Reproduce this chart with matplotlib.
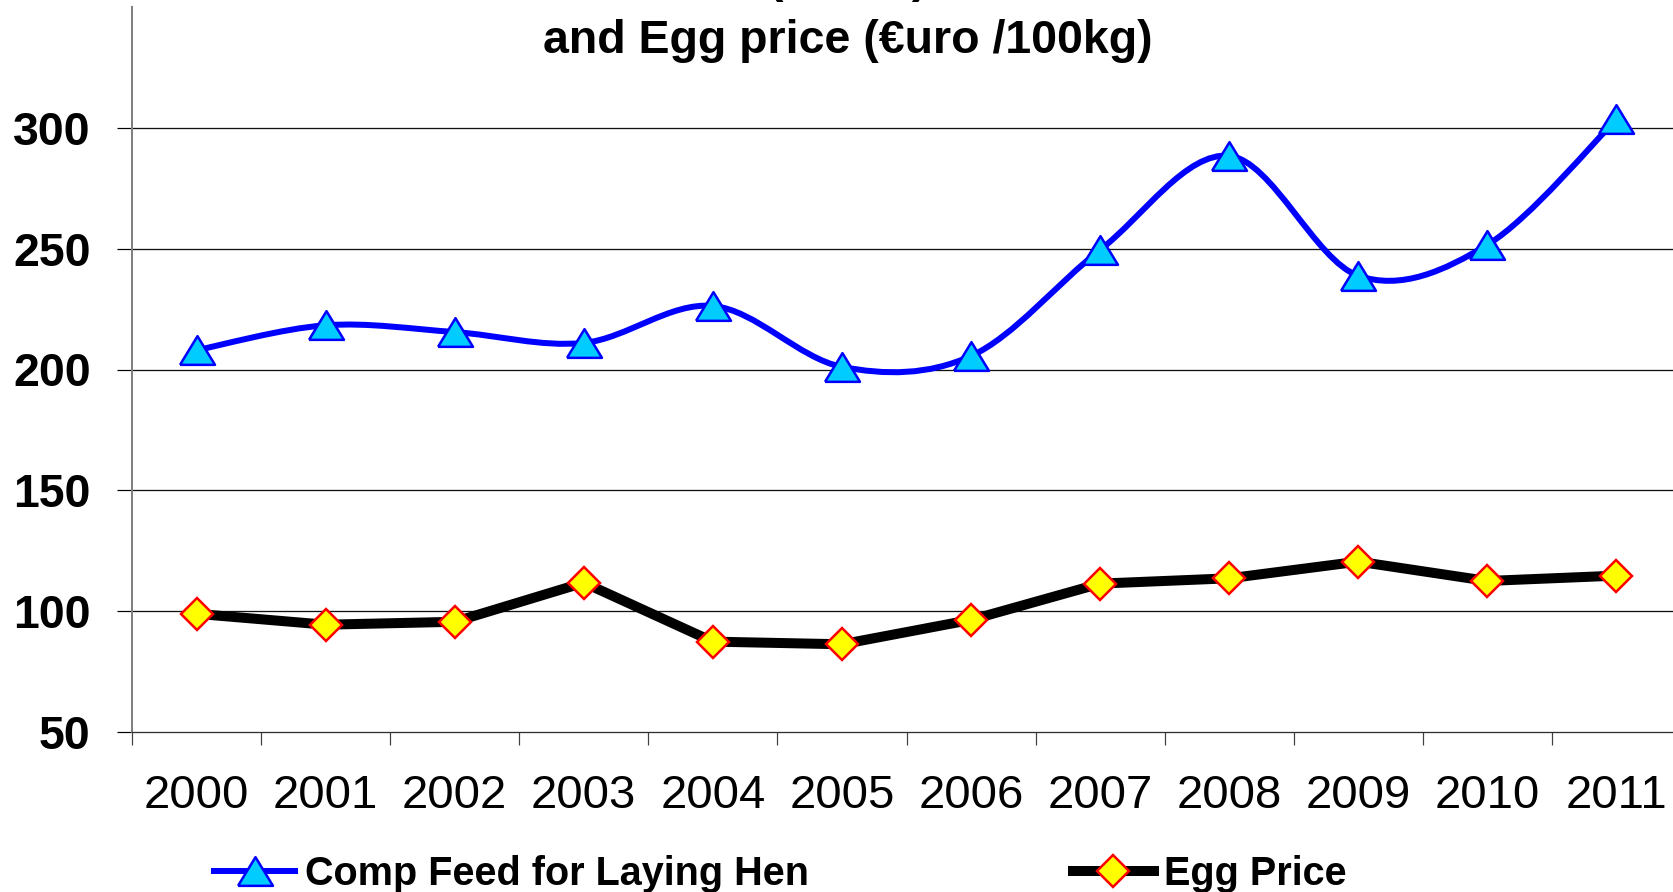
import numpy as np
import matplotlib
matplotlib.use('Agg')
from matplotlib import pyplot as plt
from matplotlib.path import Path
from matplotlib.patches import PathPatch
from matplotlib.lines import Line2D

years = ['2000', '2001', '2002', '2003', '2004', '2005',
         '2006', '2007', '2008', '2009', '2010', '2011']
feed_price = [208, 218.3, 215.5, 211, 226.3, 201.1, 205.6, 249.5, 288.4, 238.8, 251.6, 303.5]
egg_price = [98.9, 94.4, 95.6, 111.8, 87.4, 86.3, 96.4, 111.4, 113.6, 120.5, 112.5, 114.7]
y_ticks = [50, 100, 150, 200, 250, 300]

plt.rcParams['font.family'] = ['Liberation Sans', 'DejaVu Sans']

BLUE = '#0000FF'
CYAN = '#00CCFF'
PX = 0.72  # one pixel in points at dpi 100


def smooth_path(xs, ys):
    # Excel-like smoothed line: cubic bezier through the points
    pts = np.column_stack([xs, ys]).astype(float)
    n = len(pts)
    verts = [pts[0]]
    codes = [Path.MOVETO]
    for i in range(n - 1):
        p0 = pts[i - 1] if i > 0 else pts[i]
        p1 = pts[i]
        p2 = pts[i + 1]
        p3 = pts[i + 2] if i + 2 < n else pts[i + 1]
        verts += [p1 + (p2 - p0) / 6, p2 - (p3 - p1) / 6, p2]
        codes += [Path.CURVE4] * 3
    return Path(verts, codes)


fig = plt.figure(figsize=(16.73, 8.92), dpi=100)
ax = fig.add_axes([132 / 1673, 160 / 892, 1549 / 1673, 725 / 892])

x = np.arange(len(years))

# feed price: smoothed blue line with triangles
ax.add_patch(PathPatch(smooth_path(x, feed_price), transform=ax.transData,
                       facecolor='none', edgecolor=BLUE, lw=6 * PX, zorder=3,
                       capstyle='round', joinstyle='round'))
tri = [(-1, -0.82), (0, 0.82), (1, -0.82), (-1, -0.82)]
ax.plot(x, feed_price, linestyle='none', marker=tri, ms=35 * PX,
        markerfacecolor=CYAN, markeredgecolor=BLUE, markeredgewidth=2.5 * PX, zorder=4)

# egg price: thick black line with diamonds
ax.plot(x, egg_price, color='black', lw=10 * PX, marker='D', ms=23 * PX,
        markerfacecolor='#FFFF00', markeredgecolor='#FF0000', markeredgewidth=2.5 * PX,
        zorder=3, solid_joinstyle='round')

ax.set_xlim(-0.5, len(years) - 0.5)
ax.set_ylim(50, 350)

ax.set_yticks(y_ticks)
ax.set_yticklabels([str(v) for v in y_ticks], fontsize=33.5, fontweight='bold')
for v in y_ticks[1:]:
    ax.axhline(v, color='#101010', lw=1.3 * PX, zorder=1)

ax.set_xticks(np.arange(-0.5, len(years), 1.0))
ax.set_xticklabels([])
ax.set_xticks(x, minor=True)
ax.set_xticklabels(years, minor=True, fontsize=34)
ax.tick_params(axis='x', which='major', direction='out', length=13 * PX,
               width=1.2 * PX, color='#404040')
ax.tick_params(axis='x', which='minor', length=0, pad=30)
ax.tick_params(axis='y', direction='out', length=15 * PX, width=1.2 * PX,
               color='black', pad=19)

for s in ['top', 'right']:
    ax.spines[s].set_visible(False)
ax.spines['left'].set_color('#808080')
ax.spines['left'].set_linewidth(2 * PX)
ax.spines['bottom'].set_color('#303030')
ax.spines['bottom'].set_linewidth(1.3 * PX)

# title (first line mostly cut off at the top)
fig.text(848 / 1673, 1 + 8 / 892, '(€uro/t)', ha='center', va='baseline',
         fontsize=33.5, fontweight='bold')
fig.text(848 / 1673, 1 - 53 / 892, 'and Egg price (€uro /100kg)', ha='center',
         va='baseline', fontsize=33.5, fontweight='bold')

handles = [
    Line2D([], [], color=BLUE, lw=6 * PX, marker=tri, ms=35 * PX,
           markerfacecolor=CYAN, markeredgecolor=BLUE, markeredgewidth=2.5 * PX),
    Line2D([], [], color='black', lw=10 * PX, marker='D', ms=23 * PX,
           markerfacecolor='#FFFF00', markeredgecolor='#FF0000', markeredgewidth=2.5 * PX),
]
fig.legend(handles, ['Comp Feed for Laying Hen', 'Egg Price'], loc='center left',
           bbox_to_anchor=(214 / 1673, 1 - 874 / 892), ncol=2, frameon=False,
           borderpad=0, borderaxespad=0, handlelength=2.05, handletextpad=0.26,
           columnspacing=6.65, prop={'size': 28.5, 'weight': 'bold'})

fig.savefig('out.png', dpi=100)
